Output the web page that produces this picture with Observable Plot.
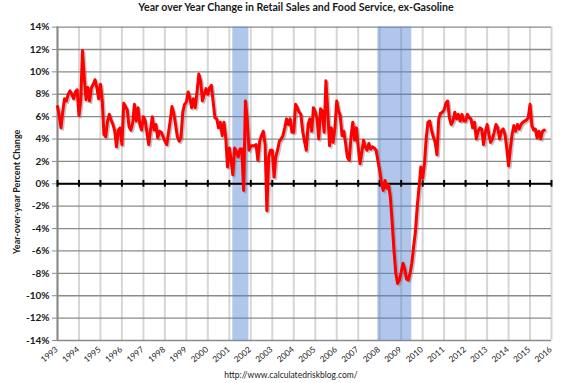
<!DOCTYPE html>
<html>
<head>
<meta charset="utf-8">
<script src="https://cdn.jsdelivr.net/npm/d3@7"></script>
<script src="https://cdn.jsdelivr.net/npm/@observablehq/plot@0.6"></script>
<style>
  body { margin: 0; background: #fff; }
  #wrap { position: relative; width: 562px; height: 383px; overflow: hidden; background: #fff; }
  #chart { position: absolute; left: 0; top: 0; }
  #title { position: absolute; left: 0; top: 0; width: 592px; text-align: center;
           font: bold 10.6px Lato, "Open Sans", sans-serif; line-height: 14px; color: #1a1a1a; }
  #caption { position: absolute; left: 0; top: 369px; width: 582px; text-align: center;
           font: 8.5px Lato, "Open Sans", sans-serif; line-height: 12px; color: #222; }
  g[aria-label="y-axis tick label"] text { font-weight: bold; }
</style>
</head>
<body>
<div id="wrap">
  <div id="chart"></div>
  <div id="title">Year over Year Change in Retail Sales and Food Service, ex-Gasoline</div>
  <div id="caption">http://www.calculatedriskblog.com/</div>
</div>
<script>
// Monthly year-over-year change (%) starting January 1993
const firstYear = 1993;
const yoyChange = [
  // 1993
  6.9, 6.0, 5.0, 6.5, 7.6, 7.4, 8.0, 8.3, 8.0, 7.6, 8.2, 8.4,
  // 1994
  6.1, 7.5, 11.9, 9.5, 7.5, 8.6, 7.4, 8.6, 8.9, 9.3, 8.6, 7.6,
  // 1995
  8.9, 7.4, 4.4, 4.2, 5.6, 6.2, 5.7, 5.3, 4.7, 3.3, 4.8, 5.0,
  // 1996
  3.5, 7.2, 6.9, 6.6, 5.1, 4.8, 5.4, 7.1, 5.6, 6.8, 5.3, 4.8,
  // 1997
  6.0, 5.6, 4.6, 3.5, 4.8, 6.0, 4.8, 5.3, 4.1, 4.7, 4.6, 4.2,
  // 1998
  3.8, 3.5, 4.5, 5.6, 6.9, 6.3, 5.3, 4.2, 3.8, 4.1, 6.4, 7.1,
  // 1999
  7.3, 8.2, 7.7, 6.8, 7.6, 6.8, 8.2, 9.8, 9.2, 7.4, 8.0, 8.5,
  // 2000
  8.0, 8.6, 8.8, 7.3, 5.9, 5.8, 5.0, 5.5, 4.3, 5.5, 4.1, 1.5,
  // 2001
  3.2, 2.1, 0.8, 3.2, 2.9, 2.4, 3.1, 3.1, -0.6, 7.4, 5.8, 3.0,
  // 2002
  3.4, 3.4, 3.4, 3.5, 2.1, 3.8, 4.3, 4.7, 3.5, -2.4, 2.4, 3.0,
  // 2003
  3.0, 0.6, 2.4, 3.0, 3.8, 4.0, 4.3, 5.0, 5.8, 5.3, 5.8, 4.6,
  // 2004
  4.6, 7.1, 6.8, 6.4, 6.2, 4.7, 3.8, 3.0, 5.3, 5.8, 4.7, 6.8,
  // 2005
  6.4, 5.8, 4.0, 6.7, 6.5, 4.6, 9.2, 6.5, 3.4, 5.0, 3.7, 5.0,
  // 2006
  7.4, 6.5, 6.1, 4.3, 4.7, 3.6, 2.4, 2.1, 4.2, 5.5, 3.9, 5.0,
  // 2007
  3.3, 1.8, 2.7, 3.9, 3.3, 3.0, 3.6, 3.1, 3.3, 3.2, 3.0, 2.1,
  // 2008
  1.2, 0.1, -0.6, 0.3, -0.4, -0.1, -1.2, -3.5, -6.0, -8.0, -8.9, -8.6,
  // 2009
  -7.9, -7.1, -7.6, -8.5, -8.6, -8.0, -7.1, -5.6, -4.2, -2.0, -0.3, 1.5,
  // 2010
  0.5, 1.8, 4.0, 5.5, 5.6, 4.8, 4.2, 3.7, 2.6, 5.8, 6.3, 6.4,
  // 2011
  6.6, 7.2, 7.4, 5.9, 5.3, 5.6, 6.4, 5.8, 6.2, 5.6, 6.2, 5.6,
  // 2012
  5.6, 6.2, 5.9, 5.8, 5.0, 5.5, 4.0, 4.7, 5.0, 4.9, 3.5, 4.6,
  // 2013
  5.3, 4.4, 3.7, 4.0, 4.6, 5.3, 5.0, 4.0, 4.7, 4.9, 4.4, 3.2,
  // 2014
  1.6, 3.2, 4.4, 5.2, 4.7, 5.3, 4.9, 5.3, 5.5, 5.6, 5.7, 5.9,
  // 2015
  7.1, 5.2, 4.8, 4.9, 4.1, 4.7, 4.0, 4.7, 4.8
];
const tickYears = [1993,1994,1995,1996,1997,1998,1999,2000,2001,2002,2003,2004,
                   2005,2006,2007,2008,2009,2010,2011,2012,2013,2014,2015,2016];
const yTicks = [-14,-12,-10,-8,-6,-4,-2,0,2,4,6,8,10,12,14];
const recessionStart = ["2001-03-01", "2007-12-01"];
const recessionEnd   = ["2001-11-30", "2009-06-30"];
const yLabel = "Year-over-year Percent Change";

const yearDate = y => new Date(Date.UTC(y, 0, 1));
const series = yoyChange.map((v, i) => ({date: new Date(Date.UTC(firstYear, i, 1)), value: v}));
const recessions = recessionStart.map((s, i) => ({start: new Date(s), end: new Date(recessionEnd[i])}));

const font = "Lato, 'Open Sans', sans-serif";

const chart = Plot.plot({
  width: 562,
  height: 383,
  marginLeft: 57,
  marginRight: 11,
  marginTop: 26.6,
  marginBottom: 43,
  style: {fontFamily: font, background: "#fff", color: "#1a1a1a", overflow: "visible"},
  x: {type: "utc", domain: [yearDate(1993), yearDate(2016)], axis: null},
  y: {domain: [-14, 14], axis: null},
  marks: [
    Plot.ruleX(tickYears, {x: yearDate, stroke: "#d6d6d6", strokeWidth: 2}),
    Plot.ruleY(yTicks, {y: d => d, stroke: "#8a8a8a", strokeWidth: 1.3}),
    Plot.ruleX([1993], {x: yearDate, stroke: "#8a8a8a", strokeWidth: 2}),
    Plot.rect(recessions, {x1: "start", x2: "end", fill: "#4f81d1", fillOpacity: 0.45}),
    Plot.axisY({ticks: yTicks, tickFormat: d => d + "%", tickSize: 5, tickPadding: 3,
                fontSize: 10, fontWeight: "bold", stroke: "#8a8a8a", label: null}),
    Plot.ruleY([0], {stroke: "#000", strokeWidth: 2}),
    Plot.ruleX(tickYears, {x: yearDate, y1: -0.3, y2: 0.3, stroke: "#000", strokeWidth: 2}),
    Plot.line(series, {x: "date", y: "value", stroke: "#7a7a7a", strokeOpacity: 0.45,
                       strokeWidth: 3, dx: 1.5, dy: 1.5, strokeLinejoin: "round"}),
    Plot.line(series, {x: "date", y: "value", stroke: "#ff0000", strokeWidth: 3,
                       strokeLinejoin: "round"}),
    Plot.text(tickYears, {x: yearDate, frameAnchor: "bottom", text: d => String(d),
                          dy: 10, dx: 1, rotate: -40, textAnchor: "end", fontSize: 8.3, fill: "#1a1a1a"}),
    Plot.text([yLabel], {frameAnchor: "left", text: d => d, rotate: -90, dx: -40, dy: 8,
                         textAnchor: "middle", fontSize: 9, fontWeight: "bold", fill: "#1a1a1a"})
  ]
});
document.getElementById("chart").appendChild(chart);
</script>
</body>
</html>
